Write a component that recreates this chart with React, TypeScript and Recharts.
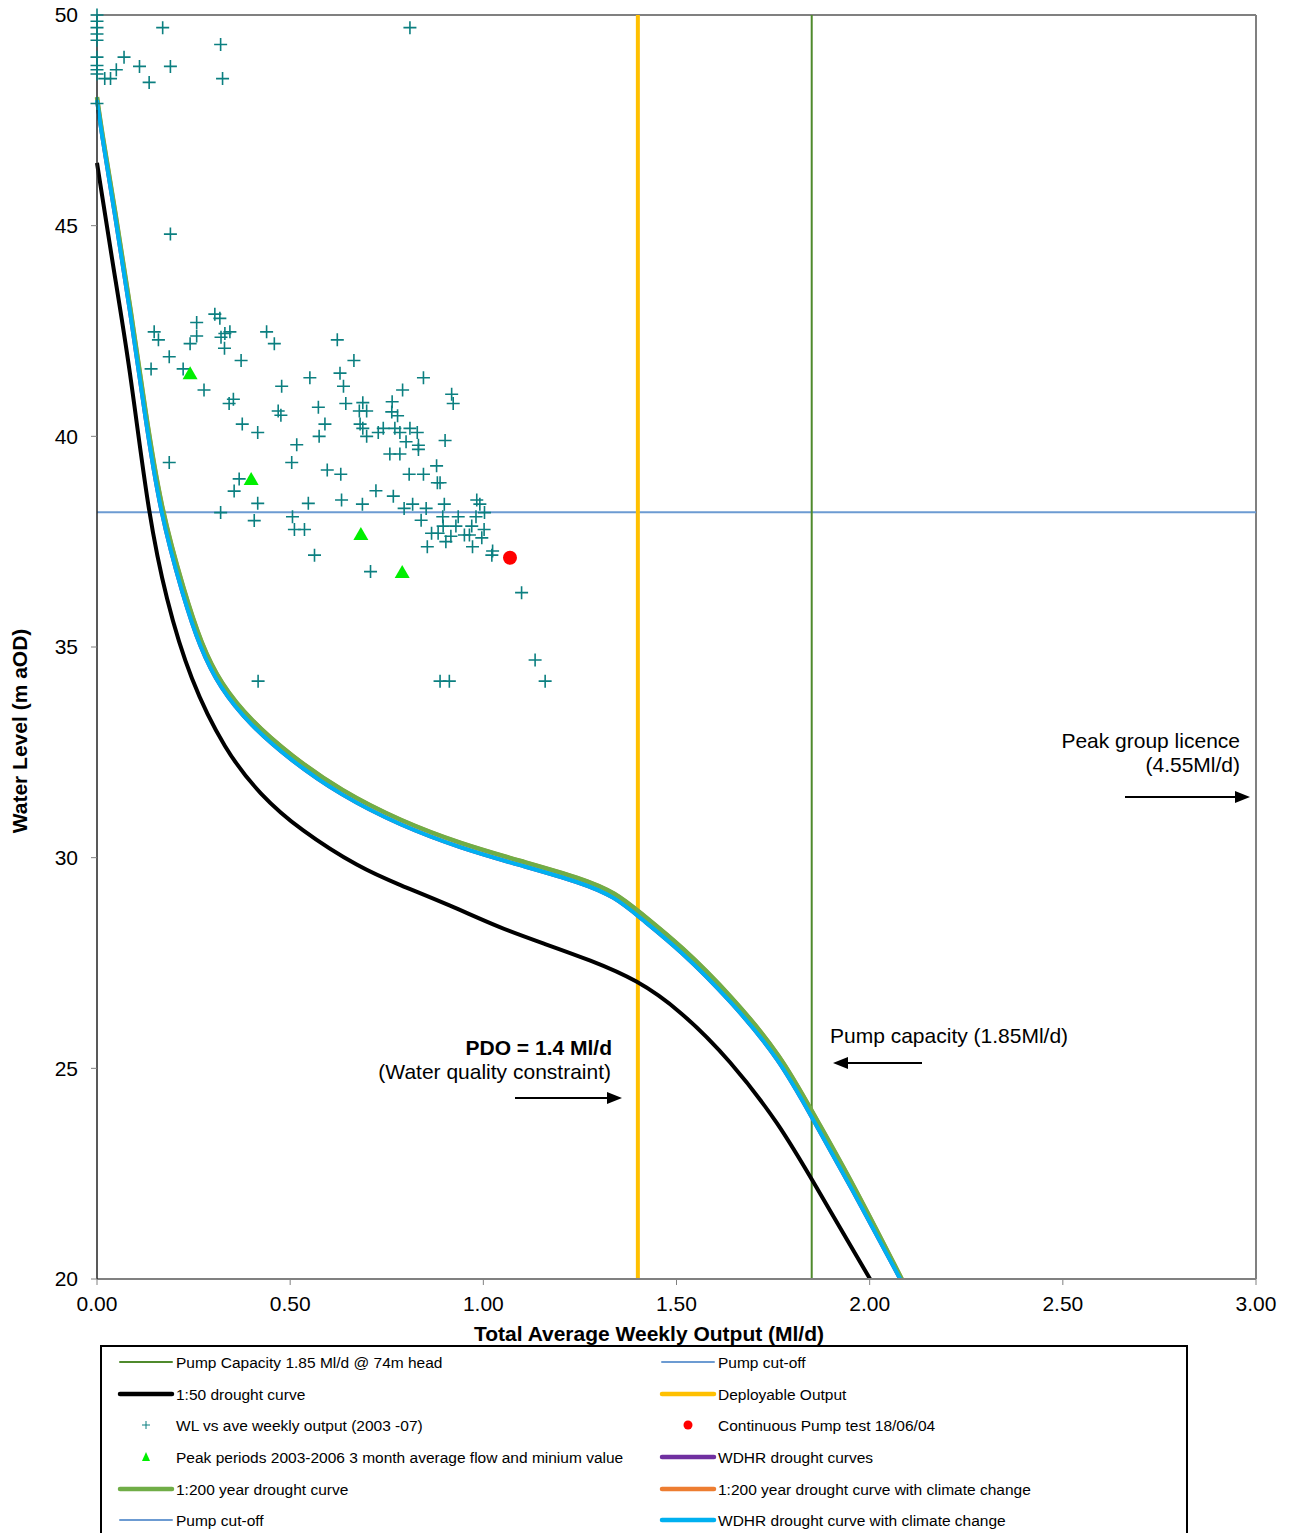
import React from 'react'
import { ComposedChart, Line, Scatter, XAxis, YAxis, ReferenceLine } from 'recharts'

const xTicks = [0, 0.5, 1, 1.5, 2, 2.5, 3]
const yTicks = [20, 25, 30, 35, 40, 45, 50]

const pumpCapacity = 1.85
const deployableOutput = 1.4
const pumpCutOff = 38.2

// [output Ml/d, water level m aOD]
const drought50: [number, number][] = [
  [0, 46.49], [0.041, 44.07], [0.085, 41.65], [0.132, 38.2], [0.179, 36.11], [0.241, 34.22],
  [0.331, 32.55], [0.422, 31.49], [0.525, 30.66], [0.681, 29.75], [0.784, 29.35], [0.914, 28.87],
  [1.043, 28.33], [1.16, 27.95], [1.276, 27.57], [1.398, 27.1], [1.509, 26.38], [1.639, 25.2],
  [1.768, 23.65], [1.851, 22.35], [2.001, 20.0],
]

const drought200: [number, number][] = [
  [0, 48.05], [0.0104, 47.35], [0.047, 45.35], [0.086, 43.1], [0.125, 40.6], [0.165, 38.3],
  [0.226, 36.3], [0.27, 35.07], [0.32, 34.13], [0.398, 33.25], [0.502, 32.42], [0.631, 31.59],
  [0.786, 30.87], [0.942, 30.33], [1.097, 29.92], [1.252, 29.52], [1.343, 29.17], [1.409, 28.67],
  [1.512, 27.91], [1.642, 26.72], [1.771, 25.3], [1.854, 23.92], [1.953, 22.33], [2.083, 20.0],
]

const wdhrClimate: [number, number][] = [
  [0, 47.98], [0.0104, 47.27], [0.0466, 45.25], [0.0854, 43.0], [0.124, 40.5], [0.163, 38.2],
  [0.223, 36.19], [0.267, 34.97], [0.318, 34.03], [0.396, 33.15], [0.5, 32.32], [0.629, 31.49],
  [0.784, 30.77], [0.94, 30.23], [1.095, 29.82], [1.25, 29.42], [1.341, 29.07], [1.406, 28.57],
  [1.509, 27.81], [1.639, 26.62], [1.768, 25.2], [1.851, 23.82], [1.949, 22.23], [2.079, 20.0],
]

const weeklyOutput: [number, number][] = [
  [0, 50.0], [0, 49.85], [0, 49.7], [0, 49.55], [0, 49.4], [0, 49.0], [0, 48.8], [0, 48.7], [0, 48.6], [0, 47.9],
  [0.17, 49.7], [0.81, 49.7], [0.32, 49.3], [0.07, 49.0], [0.11, 48.78], [0.19, 48.78], [0.05, 48.7],
  [0.02, 48.49], [0.035, 48.49], [0.135, 48.4], [0.325, 48.49], [0.19, 44.8],
  [0.305, 42.9], [0.318, 42.8], [0.258, 42.7], [0.148, 42.48], [0.344, 42.48], [0.439, 42.48], [0.159, 42.29],
  [0.258, 42.38], [0.321, 42.35], [0.331, 42.44], [0.241, 42.2], [0.459, 42.2], [0.33, 42.09], [0.187, 41.89],
  [0.14, 41.6], [0.223, 41.6], [0.373, 41.8], [0.277, 41.1], [0.478, 41.19], [0.551, 41.39], [0.353, 40.88],
  [0.342, 40.78], [0.469, 40.6], [0.476, 40.5], [0.573, 40.69], [0.376, 40.29], [0.416, 40.09], [0.59, 40.29],
  [0.575, 40.0], [0.517, 39.8],
  [0.622, 42.29], [0.665, 41.8], [0.629, 41.5], [0.638, 41.19], [0.845, 41.39], [0.791, 41.1], [0.918, 41.0],
  [0.922, 40.78], [0.644, 40.78], [0.688, 40.8], [0.679, 40.6], [0.698, 40.6], [0.764, 40.82], [0.763, 40.58],
  [0.778, 40.49], [0.681, 40.29], [0.688, 40.19], [0.698, 40.0], [0.728, 40.09], [0.741, 40.19], [0.771, 40.19],
  [0.784, 40.09], [0.81, 40.19], [0.829, 40.09], [0.8, 39.87], [0.832, 39.79], [0.901, 39.9],
  [0.758, 39.58], [0.784, 39.58], [0.832, 39.69], [0.879, 39.3], [0.631, 39.1], [0.808, 39.1], [0.845, 39.1],
  [0.881, 38.9], [0.888, 38.9], [0.722, 38.71], [0.767, 38.58], [0.633, 38.49], [0.687, 38.39], [0.817, 38.39],
  [0.899, 38.39], [0.795, 38.29], [0.852, 38.29], [0.983, 38.49], [0.991, 38.39], [1.003, 38.19], [0.839, 38.01],
  [0.895, 38.09], [0.935, 38.09], [0.981, 38.09], [0.896, 37.87], [0.929, 37.87], [0.97, 37.87], [1.002, 37.79],
  [0.866, 37.7], [0.883, 37.7], [0.916, 37.63], [0.951, 37.66], [0.964, 37.66], [0.996, 37.59], [0.903, 37.5],
  [0.855, 37.38], [0.972, 37.38], [1.024, 37.28], [1.022, 37.18], [0.708, 36.79], [1.099, 36.29],
  [0.187, 39.38], [0.504, 39.38], [0.596, 39.2], [0.368, 38.99], [0.355, 38.7], [0.416, 38.41], [0.547, 38.41],
  [0.32, 38.19], [0.407, 38.0], [0.506, 38.09], [0.511, 37.79], [0.537, 37.79], [0.563, 37.18],
  [0.417, 34.19], [0.888, 34.19], [0.912, 34.19], [1.134, 34.69], [1.16, 34.19],
]

const peakPeriods: [number, number][] = [[0.241, 41.5], [0.399, 38.99], [0.683, 37.68], [0.79, 36.78]]
const pumpTest: [number, number][] = [[1.069, 37.12]]

const toPts = (a: [number, number][]) => a.map(([x, y]) => ({ x, y }))

const FONT = 'Liberation Sans, Arial, sans-serif'

const Plus = (props: any) => {
  const { cx, cy } = props
  return (
    <path
      d={`M${cx - 6.5},${cy}H${cx + 6.5}M${cx},${cy - 6.5}V${cy + 6.5}`}
      stroke="#0b7f80"
      strokeWidth={1.6}
      fill="none"
    />
  )
}

const Tri = (props: any) => {
  const { cx, cy } = props
  return <polygon points={`${cx},${cy - 7} ${cx - 7.5},${cy + 6} ${cx + 7.5},${cy + 6}`} fill="#00ee00" />
}

const Dot = (props: any) => {
  const { cx, cy } = props
  return <circle cx={cx} cy={cy} r={7} fill="#ff0000" />
}

const legendLeft = [
  { label: 'Pump Capacity 1.85 Ml/d @ 74m head', kind: 'line', color: '#4f8a2c', w: 2 },
  { label: '1:50 drought curve', kind: 'line', color: '#000000', w: 4.5 },
  { label: 'WL vs ave weekly output (2003 -07)', kind: 'plus', color: '#0b7f80', w: 1 },
  { label: 'Peak periods 2003-2006 3 month average flow and minium value', kind: 'tri', color: '#00ee00', w: 1 },
  { label: '1:200 year drought curve', kind: 'line', color: '#70ad47', w: 4.5 },
  { label: 'Pump cut-off', kind: 'line', color: '#6c9bd2', w: 2 },
]
const legendRight = [
  { label: 'Pump cut-off', kind: 'line', color: '#6c9bd2', w: 2 },
  { label: 'Deployable Output', kind: 'line', color: '#ffc000', w: 4.5 },
  { label: 'Continuous Pump test 18/06/04', kind: 'dot', color: '#ff0000', w: 1 },
  { label: 'WDHR drought curves', kind: 'line', color: '#7030a0', w: 4.5 },
  { label: '1:200 year drought curve with climate change', kind: 'line', color: '#ed7d31', w: 4.5 },
  { label: 'WDHR drought curve with climate change', kind: 'line', color: '#00b0f0', w: 4.5 },
]

function LegendIcon({ item, x, y }: any) {
  if (item.kind === 'line')
    return <line x1={x} x2={x + 52} y1={y} y2={y} stroke={item.color} strokeWidth={item.w} strokeLinecap="round" />
  if (item.kind === 'plus')
    return <path d={`M${x + 22},${y}H${x + 30}M${x + 26},${y - 4}V${y + 4}`} stroke={item.color} strokeWidth={1} />
  if (item.kind === 'tri')
    return <polygon points={`${x + 26},${y - 5} ${x + 22},${y + 4} ${x + 30},${y + 4}`} fill={item.color} />
  return <circle cx={x + 26} cy={y} r={4.5} fill={item.color} />
}

export default function App() {
  const rows = [1362, 1394, 1425, 1457, 1489, 1520]
  return (
    <div style={{ position: 'absolute', left: 0, top: 0, width: 1291, height: 1533, overflow: 'hidden', background: '#fff', fontFamily: FONT }}>
      <ComposedChart width={1291} height={1345} margin={{ top: 15, right: 35, bottom: 0, left: 0 }}>
        <XAxis
          type="number"
          dataKey="x"
          domain={[0, 3]}
          ticks={xTicks}
          tickFormatter={(v: number) => v.toFixed(2)}
          height={66}
          axisLine={{ stroke: '#808080', strokeWidth: 2 }}
          tickLine={{ stroke: '#808080' }}
          tickSize={6}
          tickMargin={11}
          tick={{ fill: '#000', fontSize: 21, fontFamily: FONT }}
        />
        <YAxis
          type="number"
          dataKey="y"
          domain={[20, 50]}
          ticks={yTicks}
          width={97}
          axisLine={{ stroke: '#222', strokeWidth: 1.5 }}
          tickLine={{ stroke: '#808080' }}
          tickSize={6}
          tickMargin={13}
          tick={{ fill: '#000', fontSize: 21, fontFamily: FONT }}
        />
        <ReferenceLine y={50} stroke="#808080" strokeWidth={2} />
        <ReferenceLine x={3} stroke="#808080" strokeWidth={2} />
        <ReferenceLine y={pumpCutOff} stroke="#6c9bd2" strokeWidth={2} />
        <ReferenceLine x={deployableOutput} stroke="#ffc000" strokeWidth={4} />
        <ReferenceLine x={pumpCapacity} stroke="#4f8a2c" strokeWidth={2} />
        <Line data={toPts(drought50)} dataKey="y" type="basis" stroke="#000" strokeWidth={4} dot={false} isAnimationActive={false} />
        <Line data={toPts(wdhrClimate)} dataKey="y" type="basis" stroke="#7030a0" strokeWidth={4} dot={false} isAnimationActive={false} />
        <Line data={toPts(drought200)} dataKey="y" type="basis" stroke="#ed7d31" strokeWidth={4} dot={false} isAnimationActive={false} />
        <Line data={toPts(drought200)} dataKey="y" type="basis" stroke="#70ad47" strokeWidth={4.5} dot={false} isAnimationActive={false} />
        <Line data={toPts(wdhrClimate)} dataKey="y" type="basis" stroke="#00b0f0" strokeWidth={4} dot={false} isAnimationActive={false} />
        <Scatter data={toPts(weeklyOutput)} dataKey="y" shape={Plus} isAnimationActive={false} />
        <Scatter data={toPts(peakPeriods)} dataKey="y" shape={Tri} isAnimationActive={false} />
        <Scatter data={toPts(pumpTest)} dataKey="y" shape={Dot} isAnimationActive={false} />
      </ComposedChart>

      <svg width={1291} height={1533} style={{ position: 'absolute', left: 0, top: 0, pointerEvents: 'none' }} fontFamily={FONT}>
        <text x={19} y={731} transform="rotate(-90 19 731)" textAnchor="middle" dominantBaseline="central" fontSize={21} fontWeight="bold">
          Water Level (m aOD)
        </text>
        <text x={649} y={1333} textAnchor="middle" dominantBaseline="central" fontSize={21} fontWeight="bold">
          Total Average Weekly Output (Ml/d)
        </text>

        <text x={1240} y={740} textAnchor="end" dominantBaseline="central" fontSize={21}>Peak group licence</text>
        <text x={1240} y={764} textAnchor="end" dominantBaseline="central" fontSize={21}>(4.55Ml/d)</text>
        <line x1={1125} x2={1238} y1={797} y2={797} stroke="#000" strokeWidth={2} />
        <polygon points="1250,797 1235,791 1235,803" fill="#000" />

        <text x={830} y={1035} dominantBaseline="central" fontSize={21}>Pump capacity (1.85Ml/d)</text>
        <line x1={922} x2={845} y1={1063} y2={1063} stroke="#000" strokeWidth={2} />
        <polygon points="833,1063 848,1057 848,1069" fill="#000" />

        <text x={612} y={1047} textAnchor="end" dominantBaseline="central" fontSize={21} fontWeight="bold">PDO = 1.4 Ml/d</text>
        <text x={611} y={1071} textAnchor="end" dominantBaseline="central" fontSize={21}>(Water quality constraint)</text>
        <line x1={515} x2={610} y1={1098} y2={1098} stroke="#000" strokeWidth={2} />
        <polygon points="622,1098 607,1092 607,1104" fill="#000" />

        <rect x={101} y={1346} width={1086} height={220} fill="none" stroke="#000" strokeWidth={2} />
        {legendLeft.map((it, i) => (
          <g key={'l' + i}>
            <LegendIcon item={it} x={120} y={rows[i]} />
            <text x={176} y={rows[i]} dominantBaseline="central" fontSize={15.5}>{it.label}</text>
          </g>
        ))}
        {legendRight.map((it, i) => (
          <g key={'r' + i}>
            <LegendIcon item={it} x={662} y={rows[i]} />
            <text x={718} y={rows[i]} dominantBaseline="central" fontSize={15.5}>{it.label}</text>
          </g>
        ))}
      </svg>
    </div>
  )
}
